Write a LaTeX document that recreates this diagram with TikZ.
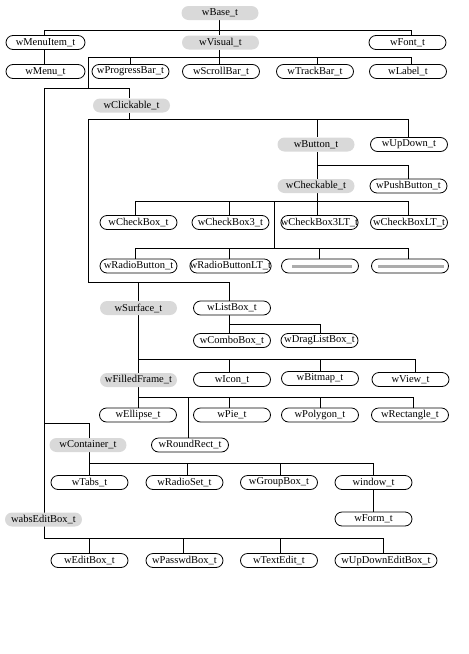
\documentclass[tikz,border=0pt]{standalone}
\usepackage{fontspec}
\setmainfont{Liberation Serif}
\usetikzlibrary{backgrounds}
\definecolor{pillgray}{HTML}{D9D9D9}
\newcommand\dropto[2]{\draw[wire] (#1) -- (#1 |- #2.north);}
\begin{document}
\begin{tikzpicture}[x=1pt,y=-1pt,
  pill/.style={draw, line width=0.8pt, rounded corners=7pt, minimum width=77pt,
    minimum height=14pt, inner sep=0pt, fill=white,
    font=\fontsize{10.5}{12}\selectfont},
  gpill/.style={pill, draw=none, fill=pillgray},
  wire/.style={line width=0.8pt},
  hbar/.style={fill=gray!65, draw=none}]
\useasboundingbox (0,0) rectangle (469,654);

% nodes
\node[gpill] (wBase) at (220,13) {wBase\_t};
\node[pill, minimum width=79pt] (wMenuItem) at (45.5,42.5) {wMenuItem\_t};
\node[gpill] (wVisual) at (220.5,42.5) {wVisual\_t};
\node[pill] (wFont) at (407.5,42.5) {wFont\_t};
\node[pill, minimum width=79pt] (wMenu) at (45.5,71.5) {wMenu\_t};
\node[pill] (wProgressBar) at (130.5,71.5) {wProgressBar\_t};
\node[pill] (wScrollBar) at (221,71.5) {wScrollBar\_t};
\node[pill] (wTrackBar) at (315,71.5) {wTrackBar\_t};
\node[pill] (wLabel) at (408,71.5) {wLabel\_t};
\node[gpill] (wClickable) at (131.5,105.5) {wClickable\_t};
\node[gpill] (wButton) at (316,144.5) {wButton\_t};
\node[pill] (wUpDown) at (409,144.5) {wUpDown\_t};
\node[gpill] (wCheckable) at (316,186) {wCheckable\_t};
\node[pill] (wPushButton) at (408.5,186) {wPushButton\_t};
\node[pill] (wCheckBox) at (138.5,222.5) {wCheckBox\_t};
\node[pill] (wCheckBoxT) at (230.5,222.5) {wCheckBox3\_t};
\node[pill] (wCheckBoxTLT) at (319.5,222.5) {wCheckBox3LT\_t};
\node[pill] (wCheckBoxLT) at (409,222.5) {wCheckBoxLT\_t};
\node[pill] (wRadioButton) at (138.5,266) {wRadioButton\_t};
\node[pill] (wRadioButtonLT) at (230.5,266) {wRadioButtonLT\_t};
\node[pill] (hatchA) at (320,266) {};
\node[pill] (hatchB) at (410,266) {};
\fill[hbar] ([xshift=-28pt,yshift=-1.5pt]hatchA.center) rectangle ([xshift=32pt,yshift=1.5pt]hatchA.center);
\fill[hbar] ([xshift=-32pt,yshift=-1.5pt]hatchB.center) rectangle ([xshift=34pt,yshift=1.5pt]hatchB.center);
\node[gpill] (wSurface) at (138.5,308) {wSurface\_t};
\node[pill] (wListBox) at (232,308) {wListBox\_t};
\node[pill] (wComboBox) at (232,340.5) {wComboBox\_t};
\node[pill] (wDragListBox) at (319.5,340.5) {wDragListBox\_t};
\node[gpill] (wFilledFrame) at (138.5,380) {wFilledFrame\_t};
\node[pill] (wIcon) at (232,379.5) {wIcon\_t};
\node[pill] (wBitmap) at (320,378.5) {wBitmap\_t};
\node[pill] (wView) at (410.5,379.5) {wView\_t};
\node[pill] (wEllipse) at (138,415) {wEllipse\_t};
\node[pill] (wPie) at (232,415) {wPie\_t};
\node[pill] (wPolygon) at (320,415) {wPolygon\_t};
\node[pill] (wRectangle) at (410,415) {wRectangle\_t};
\node[gpill] (wContainer) at (88,445) {wContainer\_t};
\node[pill] (wRoundRect) at (190,445) {wRoundRect\_t};
\node[pill] (wTabs) at (89.5,482.5) {wTabs\_t};
\node[pill] (wRadioSet) at (184.5,482.5) {wRadioSet\_t};
\node[pill] (wGroupBox) at (279,482.5) {wGroupBox\_t};
\node[pill] (window) at (373.5,482.5) {window\_t};
\node[pill] (wForm) at (373.5,519) {wForm\_t};
\node[gpill] (wabsEditBox) at (43.5,519.5) {wabsEditBox\_t};
\node[pill] (wEditBox) at (89.5,560.5) {wEditBox\_t};
\node[pill] (wPasswdBox) at (184.5,560.5) {wPasswdBox\_t};
\node[pill] (wTextEdit) at (279,560.5) {wTextEdit\_t};
\node[pill, minimum width=102pt] (wUpDownEditBox) at (386,560.5) {wUpDownEditBox\_t};

\begin{scope}[on background layer]
% wBase
\coordinate (a0) at (219,30);
\draw[wire] (wBase.south -| a0) -- (a0);
\coordinate (a1) at (44,30); \coordinate (a2) at (411,30);
\draw[wire] (a1) -- (a2);
\dropto{a1}{wMenuItem} \dropto{a0}{wVisual} \dropto{a2}{wFont}
\draw[wire] (wMenuItem.south -| a1) -- (wMenu.north -| a1);
% wVisual
\coordinate (b0) at (219,57);
\draw[wire] (wVisual.south -| b0) -- (b0);
\coordinate (b1) at (88,57); \coordinate (b2) at (130,57);
\coordinate (b3) at (317,57); \coordinate (b4) at (411,57);
\draw[wire] (b1) -- (b4);
\dropto{b2}{wProgressBar} \dropto{b0}{wScrollBar} \dropto{b3}{wTrackBar} \dropto{b4}{wLabel}
\coordinate (c0) at (88,88); \coordinate (c1) at (44,88); \coordinate (c2) at (129,88);
\draw[wire] (b1) -- (c0);
\draw[wire] (c1) -- (c2);
\dropto{c2}{wClickable}
\coordinate (z1) at (44,538);
\draw[wire] (c1) -- (z1);
% wClickable
\coordinate (d0) at (129,119);
\draw[wire] (wClickable.south -| d0) -- (d0);
\coordinate (d1) at (88,119); \coordinate (d2) at (317,119); \coordinate (d3) at (408,119);
\draw[wire] (d1) -- (d3);
\dropto{d2}{wButton} \dropto{d3}{wUpDown}
\coordinate (e0) at (88,282);
\draw[wire] (d1) -- (e0);
\coordinate (e1) at (138,282); \coordinate (e2) at (229,282);
\draw[wire] (e0) -- (e2);
\dropto{e1}{wSurface} \dropto{e2}{wListBox}
% wButton
\coordinate (f0) at (317,165); \coordinate (f1) at (408,165);
\draw[wire] (wButton.south -| f0) -- (wCheckable.north -| f0);
\draw[wire] (f0) -- (f1);
\dropto{f1}{wPushButton}
% wCheckable
\coordinate (g0) at (317,201);
\draw[wire] (wCheckable.south -| g0) -- (g0);
\coordinate (g1) at (135,201); \coordinate (g2) at (229,201);
\coordinate (g3) at (408,201); \coordinate (g4) at (274,201);
\draw[wire] (g1) -- (g3);
\dropto{g1}{wCheckBox} \dropto{g2}{wCheckBoxT} \dropto{g0}{wCheckBoxTLT} \dropto{g3}{wCheckBoxLT}
\coordinate (h0) at (274,248);
\draw[wire] (g4) -- (h0);
\coordinate (h1) at (135,248); \coordinate (h2) at (229,248);
\coordinate (h3) at (319,248); \coordinate (h4) at (408,248);
\draw[wire] (h1) -- (h4);
\dropto{h1}{wRadioButton} \dropto{h2}{wRadioButtonLT} \dropto{h3}{hatchA} \dropto{h4}{hatchB}
% wListBox
\coordinate (i0) at (229,324); \coordinate (i1) at (320,324);
\draw[wire] (wListBox.south -| i0) -- (i0);
\draw[wire] (i0) -- (i1);
\dropto{i0}{wComboBox} \dropto{i1}{wDragListBox}
% wSurface
\coordinate (j0) at (138,359);
\draw[wire] (wSurface.south -| j0) -- (j0);
\coordinate (j1) at (229,359); \coordinate (j2) at (320,359); \coordinate (j3) at (415,359);
\draw[wire] (j0) -- (j3);
\dropto{j0}{wFilledFrame} \dropto{j1}{wIcon} \dropto{j2}{wBitmap} \dropto{j3}{wView}
% wFilledFrame
\coordinate (k0) at (138,397);
\draw[wire] (wFilledFrame.south -| k0) -- (k0);
\coordinate (k1) at (229,397); \coordinate (k2) at (320,397);
\coordinate (k3) at (413,397); \coordinate (k4) at (188,397);
\draw[wire] (k0) -- (k3);
\dropto{k0}{wEllipse} \dropto{k1}{wPie} \dropto{k2}{wPolygon} \dropto{k3}{wRectangle}
\dropto{k4}{wRoundRect}
% wContainer
\coordinate (l0) at (44,423); \coordinate (l1) at (89,423);
\draw[wire] (l0) -- (l1);
\dropto{l1}{wContainer}
\coordinate (m0) at (89,463);
\draw[wire] (wContainer.south -| m0) -- (m0);
\coordinate (m1) at (187,463); \coordinate (m2) at (280,463); \coordinate (m3) at (373,463);
\draw[wire] (m0) -- (m3);
\dropto{m0}{wTabs} \dropto{m1}{wRadioSet} \dropto{m2}{wGroupBox} \dropto{m3}{window}
\draw[wire] (window.south -| m3) -- (wForm.north -| m3);
% wabsEditBox
\coordinate (n1) at (89,538); \coordinate (n2) at (183,538);
\coordinate (n3) at (280,538); \coordinate (n4) at (383,538);
\draw[wire] (z1) -- (n4);
\dropto{n1}{wEditBox} \dropto{n2}{wPasswdBox} \dropto{n3}{wTextEdit} \dropto{n4}{wUpDownEditBox}
\end{scope}
\end{tikzpicture}
\end{document}
